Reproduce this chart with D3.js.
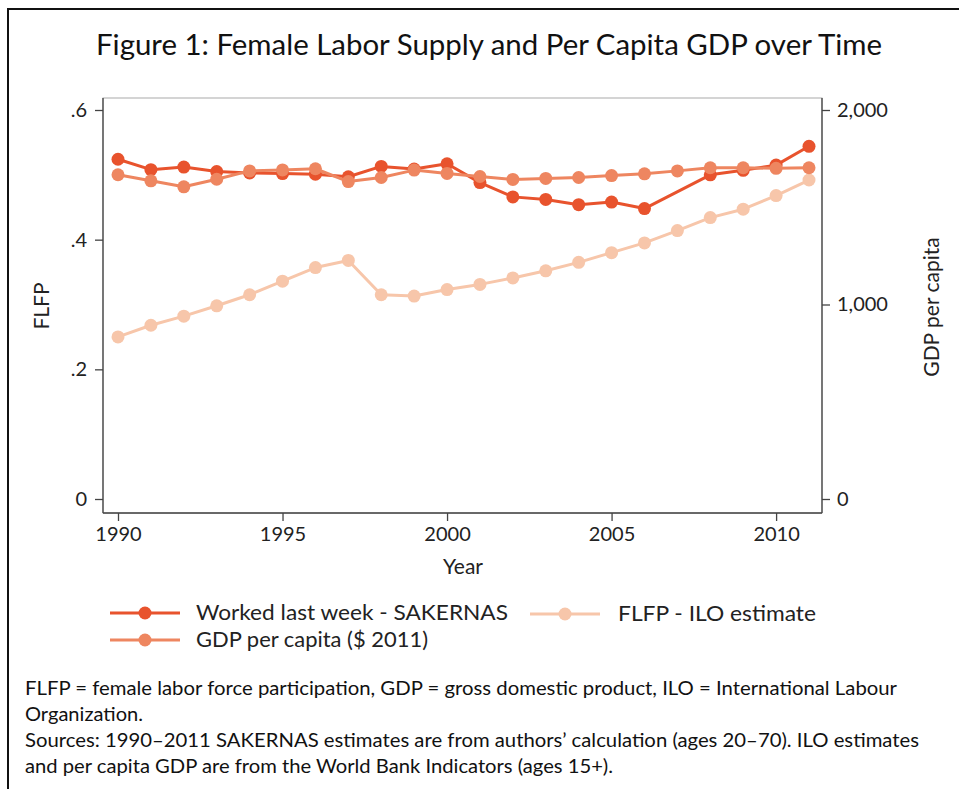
<!DOCTYPE html>
<html>
<head>
<meta charset="utf-8">
<script src="https://cdn.jsdelivr.net/npm/d3@7"></script>
<style>
  html, body { margin: 0; padding: 0; background: #fff; }
  svg { display: block; }
  text { font-family: Lato, "Open Sans", sans-serif; fill: #222; }
</style>
</head>
<body>
<svg id="chart" width="959" height="789"></svg>
<script>
// ---- Data ----
const years = [1990,1991,1992,1993,1994,1995,1996,1997,1998,1999,2000,2001,2002,2003,2004,2005,2006,2007,2008,2009,2010,2011];
// Worked last week - SAKERNAS (no observation in 2007)
const sakernas = [0.524,0.508,0.512,0.505,0.503,0.502,0.501,0.497,0.513,0.509,0.517,0.488,0.466,0.462,0.454,0.458,0.448,null,0.500,0.507,0.515,0.544];
// FLFP - ILO estimate
const ilo = [0.250,0.268,0.282,0.298,0.315,0.336,0.357,0.368,0.315,0.313,0.323,0.331,0.341,0.352,0.365,0.380,0.395,0.414,0.434,0.447,0.468,0.492];
// GDP per capita ($ 2011)
const gdp = [1667,1636,1605,1644,1687,1692,1698,1632,1653,1691,1674,1658,1643,1648,1653,1663,1672,1687,1703,1703,1700,1703];

const xTicks = [1990,1995,2000,2005,2010];
const yLeftTicks = [0,0.2,0.4,0.6];
const yLeftLabels = ["0",".2",".4",".6"];
const yRightTicks = [0,1000,2000];
const yRightLabels = ["0","1,000","2,000"];

const titleText = "Figure 1: Female Labor Supply and Per Capita GDP over Time";
const seriesNames = ["Worked last week - SAKERNAS","FLFP - ILO estimate","GDP per capita ($ 2011)"];
const colors = ["#e8532d","#f7c6aa","#ee8660"];
const notes = [
  "FLFP = female labor force participation, GDP = gross domestic product, ILO = International Labour",
  "Organization.",
  "Sources: 1990\u20132011 SAKERNAS estimates are from authors\u2019 calculation (ages 20\u201370). ILO estimates",
  "and per capita GDP are from the World Bank Indicators (ages 15+)."
];

// ---- Layout ----
const svg = d3.select("#chart");
const frame = {left: 103, right: 822, top: 98, bottom: 513};

const x = d3.scaleLinear().domain([1990, 2011]).range([118, 809]);
const yL = d3.scaleLinear().domain([0, 0.6]).range([499, 110]);
const yR = d3.scaleLinear().domain([0, 2000]).range([499, 110]);

// outer border (top and left only)
svg.append("line").attr("x1", 7).attr("x2", 959).attr("y1", 9).attr("y2", 9)
  .attr("stroke", "#111").attr("stroke-width", 2);
svg.append("line").attr("x1", 8).attr("x2", 8).attr("y1", 8).attr("y2", 789)
  .attr("stroke", "#111").attr("stroke-width", 2);

// title
svg.append("text").attr("x", 489).attr("y", 55).attr("text-anchor", "middle")
  .attr("font-size", 28).attr("textLength", 786).attr("lengthAdjust", "spacingAndGlyphs")
  .style("fill", "#111").text(titleText);

// plot frame
svg.append("rect").attr("x", frame.left).attr("y", frame.top)
  .attr("width", frame.right - frame.left).attr("height", frame.bottom - frame.top)
  .attr("fill", "#fff").attr("stroke", "#aaa").attr("stroke-width", 1);

// axes
const axisColor = "#444";
const gL = svg.append("g").attr("transform", `translate(${frame.left},0)`)
  .call(d3.axisLeft(yL).tickValues(yLeftTicks).tickSize(8).tickPadding(8)
    .tickFormat((d, i) => yLeftLabels[i]));
const gR = svg.append("g").attr("transform", `translate(${frame.right},0)`)
  .call(d3.axisRight(yR).tickValues(yRightTicks).tickSize(8).tickPadding(7)
    .tickFormat((d, i) => yRightLabels[i]));
const gX = svg.append("g").attr("transform", `translate(0,${frame.bottom})`)
  .call(d3.axisBottom(x).tickValues(xTicks).tickSize(8).tickPadding(6)
    .tickFormat(d3.format("d")));

gL.select(".domain").attr("d", `M0,${frame.top}V${frame.bottom}`);
gR.select(".domain").attr("d", `M0,${frame.top}V${frame.bottom}`);
gX.select(".domain").attr("d", `M${frame.left},0H${frame.right}`);
[gL, gR, gX].forEach(g => {
  g.selectAll(".domain").attr("stroke", axisColor).attr("stroke-width", 1.3);
  g.selectAll(".tick line").attr("stroke", axisColor).attr("stroke-width", 1.3);
  g.selectAll(".tick text").attr("font-size", 20).style("fill", "#222")
    .attr("font-family", "Lato, 'Open Sans', sans-serif");
});

// axis titles
svg.append("text").attr("transform", "translate(49,306) rotate(-90)")
  .attr("text-anchor", "middle").attr("font-size", 21).text("FLFP");
svg.append("text").attr("transform", "translate(939,307) rotate(-90)")
  .attr("text-anchor", "middle").attr("font-size", 21).text("GDP per capita");
svg.append("text").attr("x", 463).attr("y", 574)
  .attr("text-anchor", "middle").attr("font-size", 21).text("Year");

// series
const plotG = svg.append("g");
function drawSeries(vals, scale, color) {
  const pts = years.map((yr, i) => ({yr, v: vals[i]})).filter(d => d.v !== null);
  const line = d3.line().x(d => x(d.yr)).y(d => scale(d.v));
  plotG.append("path").datum(pts).attr("d", line)
    .attr("fill", "none").attr("stroke", color).attr("stroke-width", 3)
    .attr("stroke-linejoin", "round");
  plotG.selectAll(null).data(pts).enter().append("circle")
    .attr("cx", d => x(d.yr)).attr("cy", d => scale(d.v)).attr("r", 6.5)
    .attr("fill", color);
}
drawSeries(sakernas, yL, colors[0]);
drawSeries(ilo, yL, colors[1]);
drawSeries(gdp, yR, colors[2]);

// legend
const legendItems = [
  {name: seriesNames[0], color: colors[0], lx: 110, y: 613, tx: 196, tw: 312},
  {name: seriesNames[1], color: colors[1], lx: 530, y: 614, tx: 618, tw: 198},
  {name: seriesNames[2], color: colors[2], lx: 110, y: 640, tx: 196, tw: 232}
];
const lg = svg.append("g");
legendItems.forEach(it => {
  lg.append("line").attr("x1", it.lx).attr("x2", it.lx + 70).attr("y1", it.y).attr("y2", it.y)
    .attr("stroke", it.color).attr("stroke-width", 3);
  lg.append("circle").attr("cx", it.lx + 35).attr("cy", it.y).attr("r", 6.5).attr("fill", it.color);
  lg.append("text").attr("x", it.tx).attr("y", it.y + 7).attr("font-size", 21)
    .attr("textLength", it.tw).attr("lengthAdjust", "spacingAndGlyphs").text(it.name);
});

// notes
const noteWidths = [872, 118, 894, 588];
notes.forEach((t, i) => {
  svg.append("text").attr("x", 25).attr("y", 695 + i * 26).attr("font-size", 18.5)
    .attr("textLength", noteWidths[i]).attr("lengthAdjust", "spacingAndGlyphs")
    .style("fill", "#111").text(t);
});
</script>
</body>
</html>
